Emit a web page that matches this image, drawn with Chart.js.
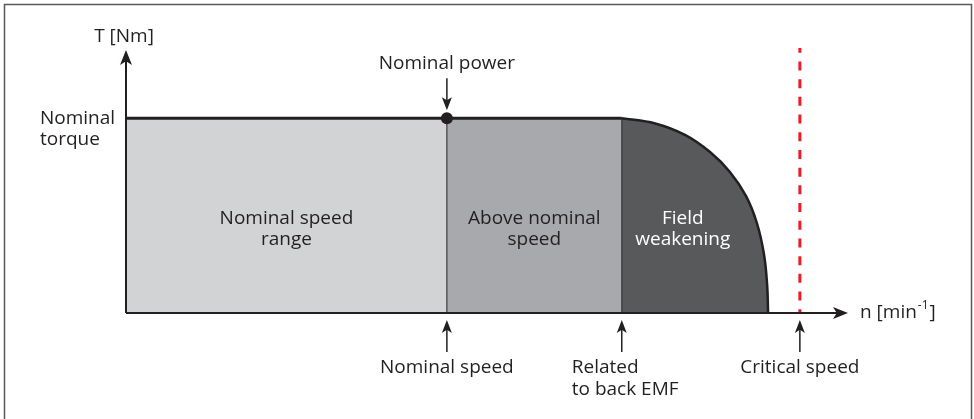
<!DOCTYPE html>
<html>
<head>
<meta charset="utf-8">
<script src="https://cdn.jsdelivr.net/npm/chart.js@4.4.1/dist/chart.umd.min.js"></script>
<style>
  html, body { margin: 0; padding: 0; background: #fff; }
</style>
</head>
<body>
<canvas id="torque-chart" width="974" height="419"></canvas>
<script>
// speed axis in min^-1 (relative units), torque in % of nominal
const nominalSpeed = 1000;
const backEmfSpeed = 1545;
const criticalSpeed = 2100;
const nominalTorque = 100;
const axisMaxSpeed = 2250;
const axisMaxTorque = 135;
const dashTopTorque = 136;

// field weakening curve
const weakeningSpeed = [1545, 1649, 1742, 1820, 1882, 1932, 1966, 1988, 1998, 2001];
const weakeningTorque = [100, 97.3, 91.4, 82.6, 72.4, 60.1, 46.2, 30.3, 14.4, 0];

const regionNames = [["Nominal speed", "range"], ["Above nominal", "speed"], ["Field", "weakening"]];
const speedMarkers = [["Nominal speed"], ["Related", "to back EMF"], ["Critical speed"]];

const INK = '#231f20';
const FONT = '"Open Sans", sans-serif';

const pts = (xs, ys) => xs.map((x, i) => ({ x: x, y: ys[i] }));

function arrowHead(ctx, x, y, dir, len, half) {
  // dir: 'up' or 'right', (x,y) is the tip
  ctx.beginPath();
  if (dir === 'up') {
    ctx.moveTo(x, y);
    ctx.lineTo(x - half, y + len);
    ctx.lineTo(x, y + len * 0.75);
    ctx.lineTo(x + half, y + len);
  } else {
    ctx.moveTo(x, y);
    ctx.lineTo(x - len, y - half);
    ctx.lineTo(x - len * 0.75, y);
    ctx.lineTo(x - len, y + half);
  }
  ctx.closePath();
  ctx.fill();
}

function thinArrow(ctx, x, yTip, yTail, dir) {
  ctx.beginPath();
  ctx.moveTo(x, yTail);
  ctx.lineTo(x, dir === 'up' ? yTip + 6 : yTip - 6);
  ctx.stroke();
  if (dir === 'up') {
    arrowHead(ctx, x, yTip, 'up', 13, 5);
  } else {
    ctx.beginPath();
    ctx.moveTo(x, yTip);
    ctx.lineTo(x - 5, yTip - 13);
    ctx.lineTo(x, yTip - 10);
    ctx.lineTo(x + 5, yTip - 13);
    ctx.closePath();
    ctx.fill();
  }
}

const decorPlugin = {
  id: 'decor',
  beforeDraw(chart) {
    const ctx = chart.ctx;
    ctx.save();
    ctx.fillStyle = '#fff';
    ctx.fillRect(0, 0, chart.width, chart.height);
    ctx.strokeStyle = '#58595b';
    ctx.lineWidth = 1.5;
    ctx.strokeRect(4.5, 4.5, 967, 440);
    ctx.restore();
  },
  afterDraw(chart) {
    const ctx = chart.ctx;
    const xs = chart.scales.x, ys = chart.scales.y;
    const x0 = xs.getPixelForValue(0), y0 = ys.getPixelForValue(0);
    const yNom = ys.getPixelForValue(nominalTorque);
    const xEnd = xs.getPixelForValue(axisMaxSpeed);
    ctx.save();
    ctx.fillStyle = INK;
    ctx.strokeStyle = INK;
    ctx.lineWidth = 1.5;

    // axis arrow heads
    arrowHead(ctx, x0, ys.getPixelForValue(axisMaxTorque), 'up', 15, 6);
    arrowHead(ctx, xEnd, y0, 'right', 15, 6);

    // marker arrows
    const xNom = xs.getPixelForValue(nominalSpeed);
    thinArrow(ctx, xNom, yNom - 8, yNom - 40, 'down');
    [nominalSpeed, backEmfSpeed, criticalSpeed].forEach(v => {
      thinArrow(ctx, xs.getPixelForValue(v), y0 + 7, y0 + 39, 'up');
    });

    ctx.font = '19px ' + FONT;
    ctx.textBaseline = 'alphabetic';

    // axis titles
    ctx.textAlign = 'center';
    ctx.fillText('T [Nm]', x0 - 2, 42);
    ctx.textAlign = 'left';
    ctx.fillText('n [min', xEnd + 12, y0 + 5);
    const nw = ctx.measureText('n [min').width;
    ctx.font = '12px ' + FONT;
    ctx.fillText('-1', xEnd + 12 + nw + 1, y0 - 4);
    const sw = ctx.measureText('-1').width;
    ctx.font = '19px ' + FONT;
    ctx.fillText(']', xEnd + 12 + nw + sw + 2, y0 + 5);

    ctx.fillText('Nominal', 40, yNom + 6);
    ctx.fillText('torque', 40, yNom + 27);

    ctx.textAlign = 'center';
    ctx.fillText('Nominal power', xNom, yNom - 49);

    // region labels
    const regionX = [
      (xs.getPixelForValue(0) + xs.getPixelForValue(nominalSpeed)) / 2,
      (xs.getPixelForValue(nominalSpeed) + xs.getPixelForValue(backEmfSpeed)) / 2,
      xs.getPixelForValue(backEmfSpeed) + 61
    ];
    regionNames.forEach((lines, i) => {
      ctx.fillStyle = i === 2 ? '#ffffff' : INK;
      lines.forEach((t, j) => ctx.fillText(t, regionX[i], y0 - 89 + j * 21));
    });

    // speed markers
    ctx.fillStyle = INK;
    const markerX = [nominalSpeed, backEmfSpeed, criticalSpeed].map(v => xs.getPixelForValue(v));
    speedMarkers.forEach((lines, i) => {
      ctx.textAlign = lines.length > 1 ? 'left' : 'center';
      const x = lines.length > 1 ? markerX[i] - 50 : markerX[i];
      lines.forEach((t, j) => ctx.fillText(t, x, y0 + 60 + j * 22));
    });
    ctx.restore();
  }
};

new Chart(document.getElementById('torque-chart'), {
  type: 'line',
  data: {
    datasets: [
      {
        data: pts([nominalSpeed], [nominalTorque]),
        showLine: false, pointRadius: 6, pointBackgroundColor: INK, pointBorderWidth: 0,
        order: 0, clip: false
      },
      {
        data: pts([0, axisMaxSpeed - 30], [0, 0]),
        borderColor: INK, borderWidth: 2, pointRadius: 0, order: 1, clip: false
      },
      {
        data: pts([0, 0], [0, axisMaxTorque - 3]),
        borderColor: INK, borderWidth: 2, pointRadius: 0, order: 1, clip: false
      },
      {
        data: pts([criticalSpeed, criticalSpeed], [dashTopTorque, 0]),
        borderColor: '#ed1c24', borderWidth: 3, borderDash: [9, 8.7], borderDashOffset: 4.3,
        pointRadius: 0, order: 2, clip: false
      },
      {
        data: pts([nominalSpeed, nominalSpeed], [0, nominalTorque]),
        borderColor: INK, borderWidth: 1, pointRadius: 0, order: 3, clip: false
      },
      {
        data: pts([backEmfSpeed, backEmfSpeed], [0, nominalTorque]),
        borderColor: INK, borderWidth: 1, pointRadius: 0, order: 3, clip: false
      },
      {
        data: pts([0, nominalSpeed], [nominalTorque, nominalTorque]),
        borderColor: INK, borderWidth: 3, backgroundColor: '#d1d3d4',
        fill: 'origin', pointRadius: 0, order: 4, clip: false
      },
      {
        data: pts([nominalSpeed, backEmfSpeed], [nominalTorque, nominalTorque]),
        borderColor: INK, borderWidth: 3, backgroundColor: '#a7a9ac',
        fill: 'origin', pointRadius: 0, order: 4, clip: false
      },
      {
        data: pts(weakeningSpeed, weakeningTorque),
        borderColor: INK, borderWidth: 2.5, backgroundColor: '#58595b',
        fill: 'origin', pointRadius: 0, tension: 0.4,
        order: 4, clip: false
      }
    ]
  },
  options: {
    responsive: false,
    animation: false,
    layout: { padding: { left: 126, right: 126, top: 50, bottom: 106 } },
    scales: {
      x: { type: 'linear', min: 0, max: axisMaxSpeed, display: false },
      y: { type: 'linear', min: 0, max: axisMaxTorque, display: false }
    },
    plugins: {
      legend: { display: false },
      tooltip: { enabled: false }
    }
  },
  plugins: [decorPlugin]
});
</script>
</body>
</html>
